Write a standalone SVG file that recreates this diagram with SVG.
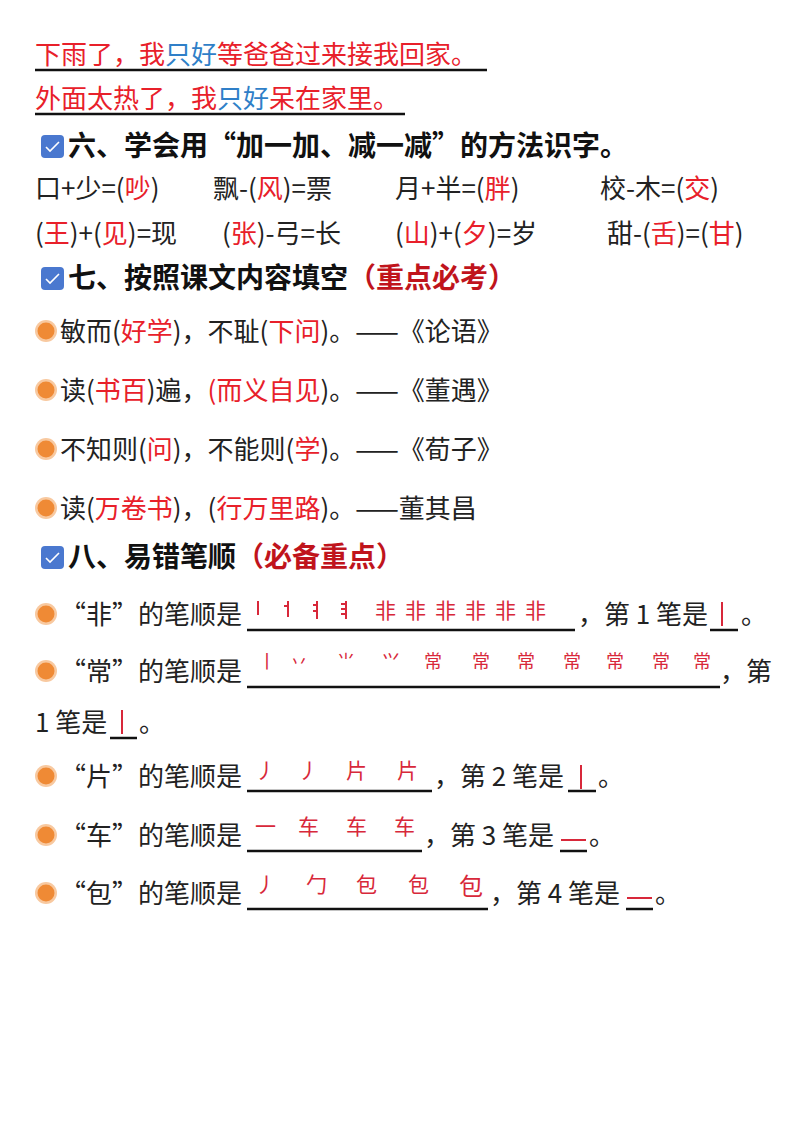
<svg xmlns="http://www.w3.org/2000/svg" width="800" height="1131" viewBox="0 0 800 1131">
<style>
text{font-family:"Noto Sans CJK SC","Noto Sans",sans-serif;font-size:26px;fill:#222}
.r{fill:#e8202a}.b{fill:#2f7fc8}.h{font-weight:bold;font-size:28px;fill:#111}.dr{fill:#c0141c;font-weight:bold}
.s{fill:#d8283a;font-size:21px}
.u{stroke:#111;stroke-width:2.5}
.st{stroke:#d8283a;stroke-width:2;fill:none}
</style>
<defs>
<g id="cb"><rect x="0" y="0" width="23" height="23" rx="4" fill="#4a78cf"/><path d="M5 12 l4 4 l9 -9" stroke="#fff" stroke-width="1.6" fill="none"/></g>
<g id="bl"><circle r="11" fill="#f8c9a0"/><circle r="8.5" fill="#ef8a35"/></g>
</defs>
<g id="top">
<text x="35" y="64"><tspan class="r">下雨了，我</tspan><tspan class="b">只好</tspan><tspan class="r">等爸爸过来接我回家。</tspan></text>
<line class="u" x1="35" y1="70" x2="487" y2="70"/>
<text x="35" y="108"><tspan class="r">外面太热了，我</tspan><tspan class="b">只好</tspan><tspan class="r">呆在家里。</tspan></text>
<line class="u" x1="35" y1="114" x2="405" y2="114"/>
</g>
<g id="s6">
<use href="#cb" x="41" y="135"/>
<text class="h" x="68" y="156">六、学会用“加一加、减一减”的方法识字。</text>
<text x="35" y="198">口+少=(<tspan class="r">吵</tspan>)</text>
<text x="213" y="198">飘-(<tspan class="r">风</tspan>)=票</text>
<text x="395" y="198">月+半=(<tspan class="r">胖</tspan>)</text>
<text x="600" y="198">校-木=(<tspan class="r">交</tspan>)</text>
<text x="35" y="243">(<tspan class="r">王</tspan>)+(<tspan class="r">见</tspan>)=现</text>
<text x="222" y="243">(<tspan class="r">张</tspan>)-弓=长</text>
<text x="395" y="243">(<tspan class="r">山</tspan>)+(<tspan class="r">夕</tspan>)=岁</text>
<text x="607" y="243">甜-(<tspan class="r">舌</tspan>)=(<tspan class="r">甘</tspan>)</text>
</g>
<g id="s7">
<use href="#cb" x="41" y="267"/>
<text class="h" x="68" y="288">七、按照课文内容填空<tspan class="dr">（重点必考）</tspan></text>
<use href="#bl" x="46" y="331"/>
<text x="60" y="341">敏而(<tspan class="r">好学</tspan>)，不耻(<tspan class="r">下问</tspan>)。——《论语》</text>
<use href="#bl" x="46" y="390"/>
<text x="60" y="400">读(<tspan class="r">书百</tspan>)遍，<tspan class="r">(而义自见</tspan>)。——《董遇》</text>
<use href="#bl" x="46" y="449"/>
<text x="60" y="459">不知则(<tspan class="r">问</tspan>)，不能则(<tspan class="r">学</tspan>)。——《荀子》</text>
<use href="#bl" x="46" y="508"/>
<text x="60" y="518">读(<tspan class="r">万卷书</tspan>)，(<tspan class="r">行万里路</tspan>)。——董其昌</text>
</g>
<g id="s8">
<use href="#cb" x="41" y="546"/>
<text class="h" x="68" y="567">八、易错笔顺<tspan class="dr">（必备重点）</tspan></text>

<use href="#bl" x="46" y="614"/>
<text x="60" y="624">“非”的笔顺是</text>
<line class="u" x1="247" y1="630" x2="575" y2="630"/>
<g class="st"><path d="M258 601v14"/><path d="M288 601v16 M284 606h4"/><path d="M317 601v18 M313 605h4 M313 611h4"/><path d="M346 601v18 M341 604h5 M341 609h5 M341 614h5"/></g>
<text class="s" x="375" y="618">非</text><text class="s" x="405" y="618">非</text><text class="s" x="435" y="618">非</text><text class="s" x="465" y="618">非</text><text class="s" x="495" y="618">非</text><text class="s" x="525" y="618">非</text>
<text x="578" y="624">，第 1 笔是</text>
<line class="u" x1="710" y1="630" x2="738" y2="630"/>
<path class="st" d="M722 602v24"/>
<text x="741" y="624">。</text>

<use href="#bl" x="46" y="671"/>
<text x="60" y="681">“常”的笔顺是</text>
<line class="u" x1="247" y1="687" x2="720" y2="687"/>
<text class="s" x="258" y="668" style="font-size:18px">丨</text><text class="s" x="290" y="668" style="font-size:18px">丷</text><text class="s" x="337" y="668" style="font-size:18px">⺌</text><text class="s" x="382" y="668" style="font-size:18px">⺍</text><text class="s" x="424" y="668" style="font-size:18px">常</text><text class="s" x="472" y="668" style="font-size:18px">常</text><text class="s" x="517" y="668" style="font-size:18px">常</text><text class="s" x="563" y="668" style="font-size:18px">常</text><text class="s" x="606" y="668" style="font-size:18px">常</text><text class="s" x="652" y="668" style="font-size:18px">常</text><text class="s" x="693" y="668" style="font-size:18px">常</text>
<text x="720" y="681">，第</text>
<text x="35" y="732">1 笔是</text>
<line class="u" x1="110" y1="738" x2="137" y2="738"/>
<path class="st" d="M122 710v24"/>
<text x="139" y="732">。</text>

<use href="#bl" x="46" y="776"/>
<text x="60" y="786">“片”的笔顺是</text>
<line class="u" x1="247" y1="791" x2="432" y2="791"/>
<text class="s" x="255" y="778">丿</text><text class="s" x="298" y="778">丿</text><text class="s" x="346" y="778">片</text><text class="s" x="397" y="778">片</text>
<text x="434" y="786">，第 2 笔是</text>
<line class="u" x1="568" y1="791" x2="596" y2="791"/>
<path class="st" d="M581 765v24"/>
<text x="598" y="786">。</text>

<use href="#bl" x="46" y="835"/>
<text x="60" y="845">“车”的笔顺是</text>
<line class="u" x1="247" y1="851" x2="422" y2="851"/>
<text class="s" x="255" y="834">一</text><text class="s" x="298" y="834">车</text><text class="s" x="346" y="834">车</text><text class="s" x="394" y="834">车</text>
<text x="424" y="845">，第 3 笔是</text>
<line class="u" x1="560" y1="851" x2="587" y2="851"/>
<path class="st" d="M561 840h25"/>
<text x="589" y="845">。</text>

<use href="#bl" x="46" y="893"/>
<text x="60" y="903">“包”的笔顺是</text>
<line class="u" x1="247" y1="909" x2="488" y2="909"/>
<text class="s" x="255" y="892">丿</text><text class="s" x="306" y="892">勹</text><text class="s" x="356" y="892">包</text><text class="s" x="408" y="892">包</text><text class="s" x="459" y="895" style="font-size:24px">包</text>
<text x="490" y="903">，第 4 笔是</text>
<line class="u" x1="626" y1="909" x2="653" y2="909"/>
<path class="st" d="M627 898h25"/>
<text x="655" y="903">。</text>
</g>
</svg>
